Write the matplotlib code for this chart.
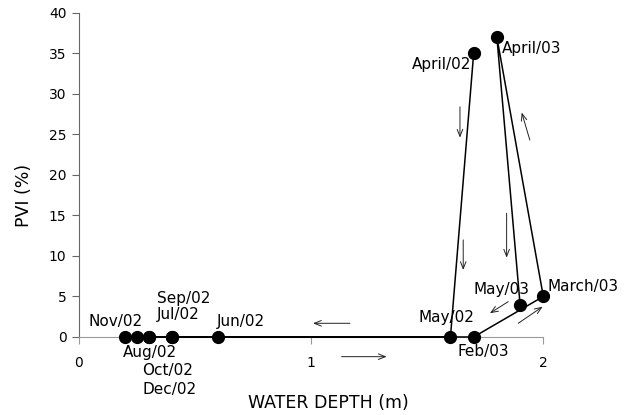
import matplotlib
matplotlib.use("Agg")
from matplotlib import pyplot as plt

# monthly points, in the order they were sampled
months = ["April/02", "May/02", "Jun/02", "Jul/02", "Aug/02", "Sep/02", "Oct/02",
          "Nov/02", "Dec/02", "Feb/03", "March/03", "April/03", "May/03"]
water_depth = [1.70, 1.60, 0.60, 0.40, 0.25, 0.40, 0.30, 0.20, 0.30, 1.70, 2.00, 1.80, 1.90]
pvi = [35, 0, 0, 0, 0, 0, 0, 0, 0, 0, 5, 37, 4]

# where each label sits (data coords) and its alignment
label_pos = {
    "April/02": (1.563, 33.6, "center"),
    "May/02": (1.583, 2.35, "center"),
    "Jun/02": (0.594, 1.9, "left"),
    "Jul/02": (0.336, 2.72, "left"),
    "Aug/02": (0.304, -1.94, "center"),
    "Sep/02": (0.336, 4.81, "left"),
    "Oct/02": (0.383, -4.16, "center"),
    "Nov/02": (0.158, 1.9, "center"),
    "Dec/02": (0.392, -6.42, "center"),
    "Feb/03": (1.742, -1.81, "center"),
    "March/03": (2.02, 6.2, "left"),
    "April/03": (1.951, 35.6, "center"),
    "May/03": (1.82, 5.8, "center"),
}

# direction arrows: (tail, head)
arrows = [
    ((1.167, 1.69), (1.008, 1.69)),
    ((1.131, -2.43), (1.325, -2.43)),
    ((1.641, 28.4), (1.641, 24.6)),
    ((1.655, 11.98), (1.655, 8.27)),
    ((1.842, 15.27), (1.842, 9.79)),
    ((1.942, 24.3), (1.907, 27.7)),
    ((1.849, 4.36), (1.770, 2.93)),
    ((1.892, 1.69), (1.997, 3.74)),
]

fig = plt.figure(figsize=(6.33, 4.15), dpi=100)
ax = fig.add_axes([0.1248, 0.188, 0.7335, 0.781])

ax.plot(water_depth, pvi, color="black", lw=1.1, zorder=3, clip_on=False)
ax.plot(water_depth, pvi, "o", color="black", ms=8.5, zorder=4, clip_on=False)

for m in months:
    x, y, ha = label_pos[m]
    ax.text(x, y, m, ha=ha, va="center", fontsize=11, zorder=5, clip_on=False)

for tail, head in arrows:
    ax.annotate("", xy=head, xytext=tail, annotation_clip=False,
                arrowprops=dict(arrowstyle="->,head_length=0.5,head_width=0.2",
                                lw=0.7, color="#222222", shrinkA=0, shrinkB=0))

ax.set_xlim(0, 2)
ax.set_ylim(0, 40)
ax.set_xticks([0, 1, 2])
ax.set_yticks(range(0, 41, 5))
for s in ["top", "right"]:
    ax.spines[s].set_visible(False)
ax.spines["left"].set_color("#666666")
ax.spines["bottom"].set_color("#999999")
ax.tick_params(axis="x", direction="out", length=5, pad=9, labelsize=10, color="#999999")
ax.tick_params(axis="y", direction="out", length=5, pad=4, labelsize=10, color="#666666")
ax.set_xlabel("WATER DEPTH (m)", fontsize=12.5)
ax.set_ylabel("PVI (%)", fontsize=12.5)
ax.xaxis.set_label_coords(0.538, -0.175)
ax.yaxis.set_label_coords(-0.099, 0.438)

plt.savefig("out.png", dpi=100)
